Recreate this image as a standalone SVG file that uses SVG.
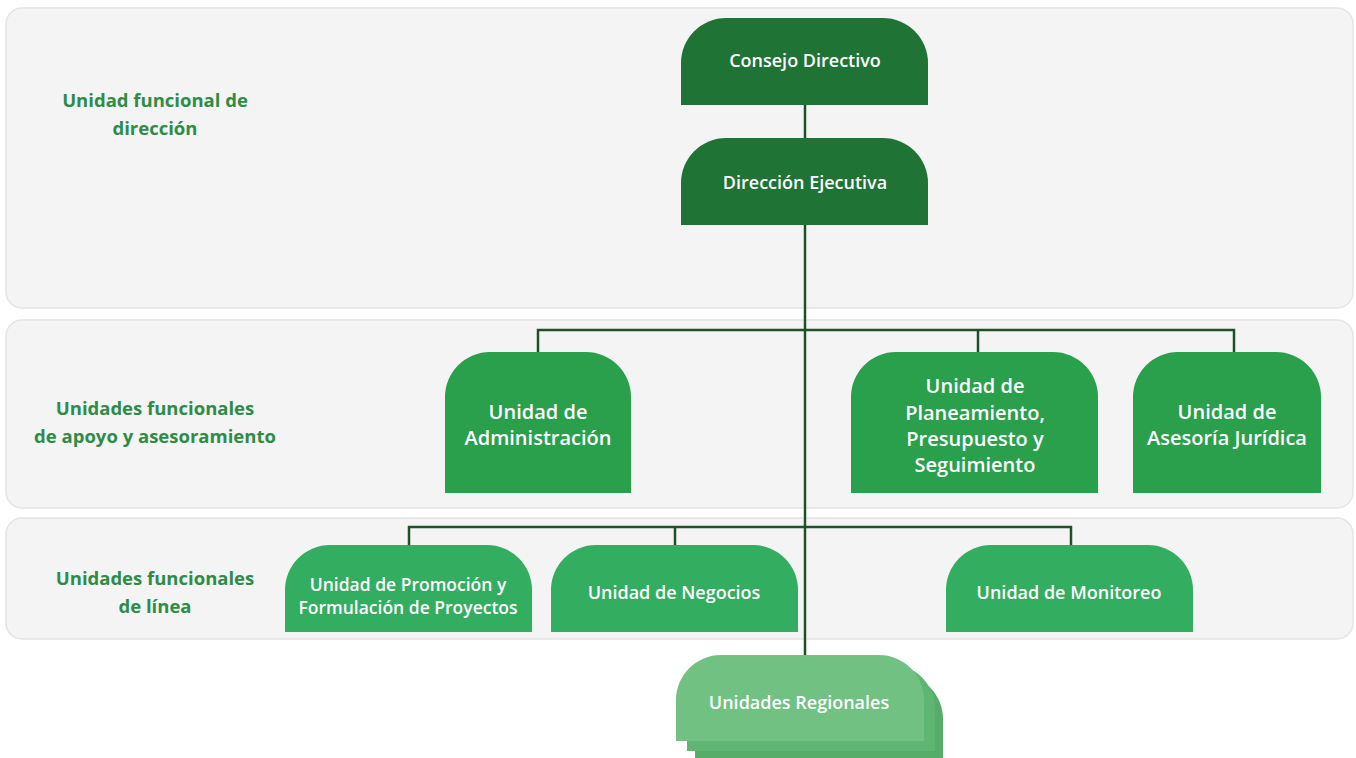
<svg xmlns="http://www.w3.org/2000/svg" width="1356" height="758" viewBox="0 0 1356 758">
<style>
.band{fill:#f4f4f4;stroke:#e4e4e4;stroke-width:1.5}
.lbl{font-family:"Open Sans","Liberation Sans",sans-serif;font-weight:700;font-size:18.5px;fill:#2e8c46;text-anchor:middle}
.t{font-family:"Open Sans","Liberation Sans",sans-serif;font-weight:600;fill:#ffffff;text-anchor:middle}
.dk{fill:#1f7335}
.md{fill:#2a9f4c}
.ln{fill:#33ad60}
.rg{fill:#70c182}
.rg2{fill:#5fb673}
.rg3{fill:#56ad69}
.conn{stroke:#1f4f2b;stroke-width:2.5;fill:none}
</style>
<rect width="1356" height="758" fill="#ffffff"/>
<g id="bands">
<rect class="band" x="6" y="8" width="1347" height="300" rx="16"/>
<rect class="band" x="6" y="320" width="1347" height="188" rx="16"/>
<rect class="band" x="6" y="518" width="1347" height="121" rx="16"/>
</g>
<g id="labels">
<text class="lbl" x="155" y="107">Unidad funcional de</text>
<text class="lbl" x="155" y="135">dirección</text>
<text class="lbl" x="155" y="415">Unidades funcionales</text>
<text class="lbl" x="155" y="443">de apoyo y asesoramiento</text>
<text class="lbl" x="155" y="585">Unidades funcionales</text>
<text class="lbl" x="155" y="613">de línea</text>
</g>
<g id="connectors">
<line class="conn" x1="805" y1="105" x2="805" y2="138"/>
<line class="conn" x1="805" y1="225" x2="805" y2="656"/>
<polyline class="conn" points="538,352 538,330 1234,330 1234,352"/>
<line class="conn" x1="978" y1="330" x2="978" y2="352"/>
<polyline class="conn" points="409,545 409,527 1071,527 1071,545"/>
<line class="conn" x1="675" y1="527" x2="675" y2="545"/>
</g>
<g id="consejo">
<path class="dk" d="M681,105 V63 A45,45 0 0 1 726,18 H883 A45,45 0 0 1 928,63 V105 Z"/>
<text class="t" x="805" y="67" font-size="18">Consejo Directivo</text>
</g>
<g id="direccion">
<path class="dk" d="M681,225 V183 A45,45 0 0 1 726,138 H883 A45,45 0 0 1 928,183 V225 Z"/>
<text class="t" x="805" y="189" font-size="18">Dirección Ejecutiva</text>
</g>
<g id="administracion">
<path class="md" d="M445,493 V397 A45,45 0 0 1 490,352 H586 A45,45 0 0 1 631,397 V493 Z"/>
<text class="t" x="538" y="419" font-size="20">Unidad de</text>
<text class="t" x="538" y="445" font-size="20">Administración</text>
</g>
<g id="planeamiento">
<path class="md" d="M851,493 V397 A45,45 0 0 1 896,352 H1053 A45,45 0 0 1 1098,397 V493 Z"/>
<text class="t" x="975" y="393" font-size="20">Unidad de</text>
<text class="t" x="975" y="420" font-size="20">Planeamiento,</text>
<text class="t" x="975" y="446" font-size="20">Presupuesto y</text>
<text class="t" x="975" y="472" font-size="20">Seguimiento</text>
</g>
<g id="asesoria">
<path class="md" d="M1133,493 V397 A45,45 0 0 1 1178,352 H1276 A45,45 0 0 1 1321,397 V493 Z"/>
<text class="t" x="1227" y="419" font-size="20">Unidad de</text>
<text class="t" x="1227" y="445" font-size="20">Asesoría Jurídica</text>
</g>
<g id="promocion">
<path class="ln" d="M285,632 V590 A45,45 0 0 1 330,545 H487 A45,45 0 0 1 532,590 V632 Z"/>
<text class="t" x="408" y="591" font-size="17.5">Unidad de Promoción y</text>
<text class="t" x="408" y="614" font-size="17.5">Formulación de Proyectos</text>
</g>
<g id="negocios">
<path class="ln" d="M551,632 V590 A45,45 0 0 1 596,545 H753 A45,45 0 0 1 798,590 V632 Z"/>
<text class="t" x="674" y="599" font-size="18">Unidad de Negocios</text>
</g>
<g id="monitoreo">
<path class="ln" d="M946,632 V590 A45,45 0 0 1 991,545 H1148 A45,45 0 0 1 1193,590 V632 Z"/>
<text class="t" x="1069" y="599" font-size="18">Unidad de Monitoreo</text>
</g>
<g id="regionales">
<path class="rg3" d="M695,760 V719 A45,45 0 0 1 740,674 H898 A45,45 0 0 1 943,719 V760 Z"/>
<path class="rg2" d="M687,751 V709 A45,45 0 0 1 732,664 H890 A45,45 0 0 1 935,709 V751 Z"/>
<path class="rg" d="M676,741 V700 A45,45 0 0 1 721,655 H879 A45,45 0 0 1 924,700 V741 Z"/>
<text class="t" x="799" y="709" font-size="18">Unidades Regionales</text>
</g>
</svg>
